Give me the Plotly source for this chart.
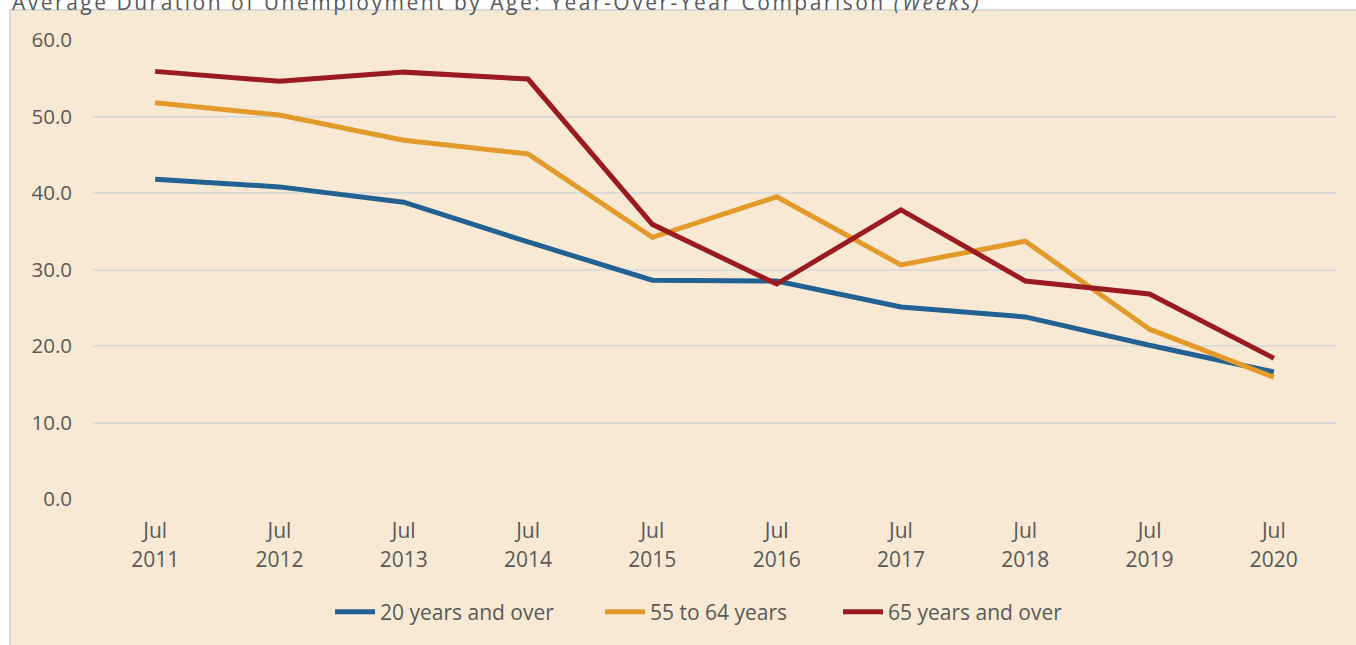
import plotly.graph_objects as go

years = ["2011", "2012", "2013", "2014", "2015", "2016", "2017", "2018", "2019", "2020"]
categories = ["Jul " + y for y in years]
tick_labels = ["<span style='font-size:21px'>Jul</span><br><span style='font-size:21px'>" + y + "</span>" for y in years]
age_20_over = [41.8, 40.8, 38.8, 33.6, 28.6, 28.5, 25.1, 23.8, 20.1, 16.6]
age_55_64 = [51.8, 50.2, 46.9, 45.1, 34.2, 39.5, 30.6, 33.7, 22.2, 15.9]
age_65_over = [55.9, 54.6, 55.8, 54.9, 35.9, 28.1, 37.8, 28.5, 26.8, 18.4]

series_names = ["20 years and over", "55 to 64 years", "65 years and over"]
series_colors = ["#236192", "#E29B2B", "#9A1B1F"]

W, H = 1356, 645
L, R, T, B = 93, 20, 40, 146
PW, PH = W - L - R, H - T - B

def px_x(p):
    return (p - L) / PW

def px_y(p):
    return (H - B - p) / PH

legend_ids = ["legend", "legend2", "legend3"]
legend_left_px = [330, 600, 838]

fig = go.Figure()
for name, vals, col, lid in zip(series_names, [age_20_over, age_55_64, age_65_over], series_colors, legend_ids):
    fig.add_trace(go.Scatter(x=categories, y=vals, mode="lines", name=name,
                             line=dict(color=col, width=5), legend=lid))

panel = "#F8E9D5"
fig.add_shape(type="rect", xref="paper", yref="paper", layer="below",
              x0=px_x(10), x1=px_x(1380), y0=px_y(680), y1=px_y(10),
              fillcolor=panel, line=dict(color="#D9D9D9", width=2))

fig.add_annotation(xref="paper", yref="paper", x=px_x(10), y=px_y(2), xanchor="left", yanchor="middle",
                   showarrow=False,
                   text='<span style="letter-spacing:2.5px">Average Duration of Unemployment by Age: Year-Over-Year Comparison <i>(Weeks)</i></span>',
                   font=dict(family="Open Sans", size=21, color="#595959"))

legend_style = dict(orientation="h", xanchor="left", yanchor="middle", y=px_y(612),
                    font=dict(family="Open Sans", size=21, color="#595959"),
                    bgcolor="rgba(0,0,0,0)", itemwidth=40)

fig.update_layout(
    width=W, height=H,
    margin=dict(l=L, r=R, t=T, b=B, pad=0),
    paper_bgcolor="white",
    plot_bgcolor="rgba(0,0,0,0)",
    font=dict(family="Open Sans", size=20, color="#595959"),
    showlegend=True,
    legend=dict(x=px_x(legend_left_px[0]), **legend_style),
    legend2=dict(x=px_x(legend_left_px[1]), **legend_style),
    legend3=dict(x=px_x(legend_left_px[2]), **legend_style),
    xaxis=dict(type="category", range=[-0.5, 9.5], showgrid=False, zeroline=False,
               showline=False, ticks="", ticklabelstandoff=16,
               tickmode="array", tickvals=categories, ticktext=tick_labels,
               tickfont=dict(family="Open Sans", size=22, color="#595959")),
    yaxis=dict(range=[0, 60], dtick=10, tickformat=".1f", showgrid=True,
               gridcolor="#DCDCDC", gridwidth=2, zeroline=False, showline=False,
               ticks="", ticklabelstandoff=20,
               tickfont=dict(family="Open Sans", size=20.5, color="#595959")),
)

fig.write_html("out.html", config={"displayModeBar": False},
               post_script="document.body.style.margin='0';document.body.style.padding='0';")
